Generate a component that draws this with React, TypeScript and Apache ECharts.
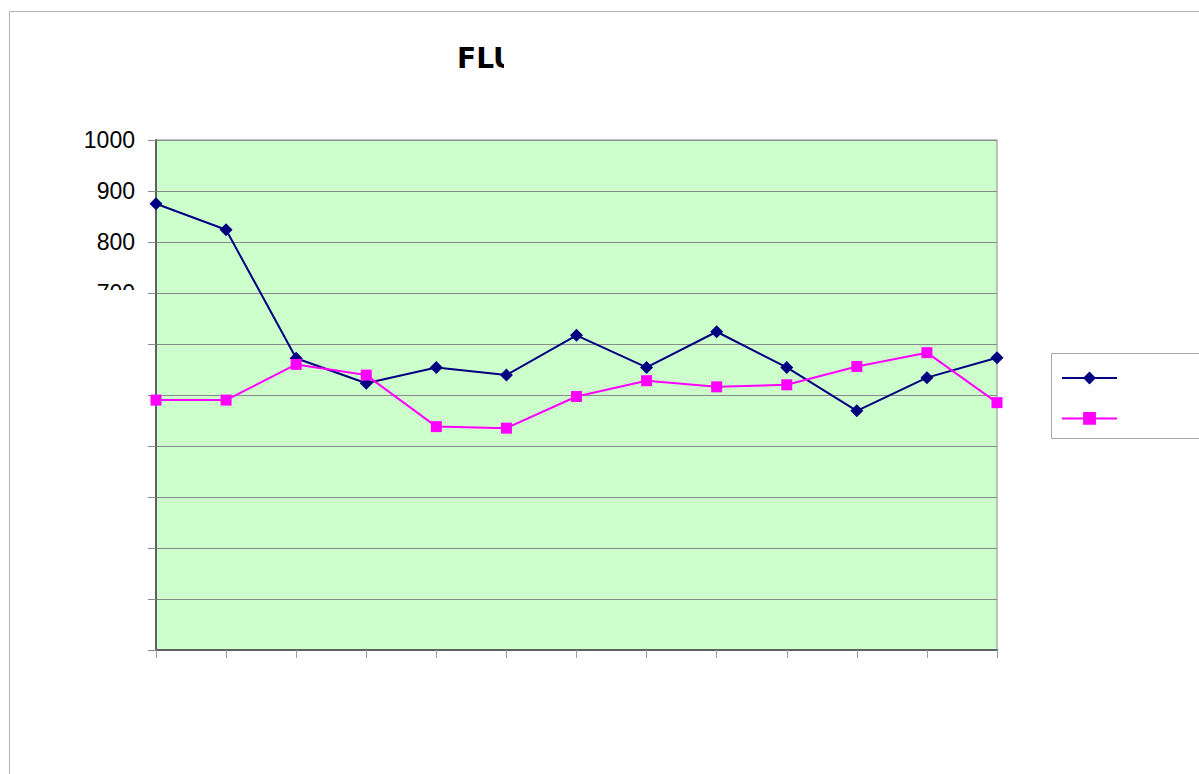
import React, { useEffect, useRef } from "react";
import * as echarts from "echarts";

const categories = ["1", "2", "3", "4", "5", "6", "7", "8", "9", "10", "11", "12", "13"];
const seriesNavy = [875, 824, 572, 523, 554, 539, 617, 554, 624, 554, 469, 534, 573];
const seriesMagenta = [490, 490, 560, 539, 438, 435, 497, 528, 516, 520, 556, 583, 485];
const titleText = "FLU";
const yMin = 0;
const yMax = 1000;
const yStep = 100;
const visibleLabelFrom = 700;

export default function App() {
  const ref = useRef<HTMLDivElement>(null);
  useEffect(() => {
    if (!ref.current) return;
    const chart = echarts.init(ref.current, null, { renderer: "svg" });
    chart.setOption({
      animation: false,
      backgroundColor: "#ffffff",
      grid: {
        left: 156,
        top: 140,
        right: 202,
        bottom: 124,
        show: true,
        backgroundColor: "#CCFFCC",
        borderColor: "#8a8a8a",
        borderWidth: 1,
      },
      legend: {
        orient: "vertical",
        left: 1061,
        top: 370,
        padding: 0,
        itemWidth: 55,
        itemHeight: 16,
        itemGap: 26,
        formatter: () => "",
        textStyle: { fontSize: 12 },
        selectedMode: false,
      },
      xAxis: {
        type: "category",
        data: categories,
        boundaryGap: false,
        axisLine: { show: true, lineStyle: { color: "#606060", width: 2 } },
        axisTick: { show: true, length: 8, inside: false, alignWithLabel: true, lineStyle: { color: "#9a9a9a", width: 1 } },
        axisLabel: { show: false },
        splitLine: { show: false },
      },
      yAxis: {
        type: "value",
        min: yMin,
        max: yMax,
        interval: yStep,
        axisLine: { show: true, lineStyle: { color: "#606060", width: 2 } },
        axisTick: { show: true, length: 8, lineStyle: { color: "#8a8a8a", width: 1 } },
        splitLine: { show: true, lineStyle: { color: "#8a8a8a", width: 1 } },
        axisLabel: {
          show: true,
          margin: 21,
          color: "#000000",
          fontFamily: "Liberation Sans",
          fontSize: 23,
          formatter: (v: number) => (v >= visibleLabelFrom ? String(v) : ""),
        },
      },
      series: [
        {
          name: "Series1",
          type: "line",
          data: seriesNavy,
          symbol: "diamond",
          symbolSize: 13,
          showAllSymbol: true,
          lineStyle: { color: "#000080", width: 2 },
          itemStyle: { color: "#000080" },
          z: 3,
        },
        {
          name: "Series2",
          type: "line",
          data: seriesMagenta,
          symbol: "rect",
          symbolSize: 11,
          showAllSymbol: true,
          lineStyle: { color: "#FF00FF", width: 2 },
          itemStyle: { color: "#FF00FF" },
          z: 4,
        },
      ],
      graphic: [
        {
          type: "rect",
          shape: { x: 9.5, y: 11.5, width: 1400, height: 1000 },
          style: { fill: "none", stroke: "#b0b0b0", lineWidth: 1 },
          z: 100,
          silent: true,
        },
        {
          type: "rect",
          shape: { x: 1051.5, y: 353.5, width: 300, height: 85 },
          style: { fill: "none", stroke: "#a8a8a8", lineWidth: 1 },
          z: 100,
          silent: true,
        },
        {
          type: "text",
          x: 457,
          y: 58,
          style: {
            text: titleText,
            fill: "#000000",
            font: "bold 28px 'DejaVu Sans'",
            textAlign: "left",
            textVerticalAlign: "middle",
          },
          z: 100,
          silent: true,
        },
        {
          type: "rect",
          shape: { x: 504, y: 38, width: 60, height: 40 },
          style: { fill: "#ffffff" },
          z: 101,
          silent: true,
        },
        {
          type: "rect",
          shape: { x: 60, y: 290, width: 86, height: 20 },
          style: { fill: "#ffffff" },
          z: 101,
          silent: true,
        },
      ],
    });
    return () => chart.dispose();
  }, []);
  return (
    <div
      ref={ref}
      style={{ position: "absolute", left: 0, top: 0, width: 1199, height: 774 }}
    />
  );
}
